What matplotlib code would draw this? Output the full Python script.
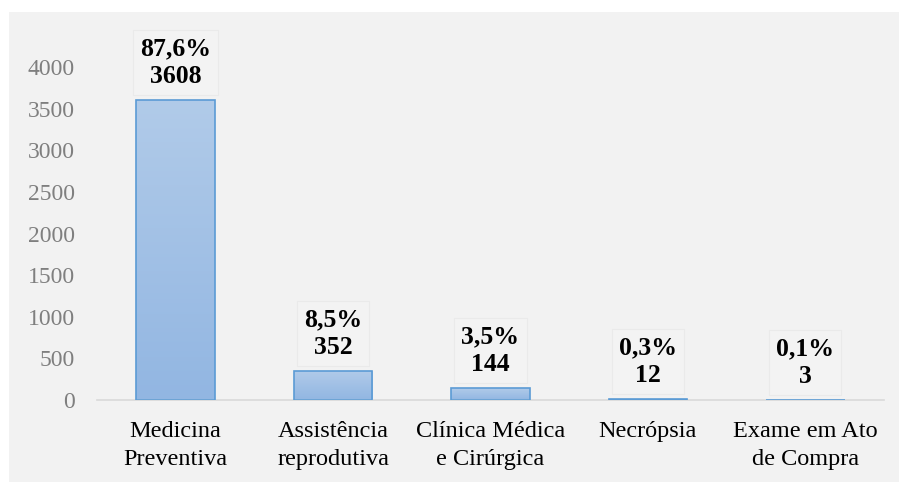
import matplotlib.pyplot as plt
import numpy as np
from matplotlib.patches import Rectangle
from matplotlib.colors import LinearSegmentedColormap

categorias = ["Medicina\nPreventiva", "Assistência\nreprodutiva", "Clínica Médica\ne Cirúrgica",
              "Necrópsia", "Exame em Ato\nde Compra"]
valores = [3608, 352, 144, 12, 3]
percentuais = ["87,6%", "8,5%", "3,5%", "0,3%", "0,1%"]

plt.rcParams['font.family'] = ['Liberation Serif', 'DejaVu Serif']

fig = plt.figure(figsize=(8.99, 4.82), dpi=100, facecolor='white')
# painel cinza de fundo
fig.patches.append(Rectangle((9/899, 0), 890/899, 470/482, transform=fig.transFigure,
                             facecolor='#f2f2f2', edgecolor='none', zorder=-10))

ax = fig.add_axes([97/899, 1 - 400/482, (884 - 97)/899, (400 - 67)/482])
ax.set_facecolor('none')

x = np.arange(len(valores))
largura = 0.5
barras = ax.bar(x, valores, width=largura, color='none', edgecolor='#5b9bd5', linewidth=1.2, zorder=3)

# preenchimento em gradiente
grad = np.linspace(0, 1, 256).reshape(-1, 1)
cmap = LinearSegmentedColormap.from_list('g', ['#b1cbe9', '#92b6e2'])
for b in barras:
    x0, y0, w, h = b.get_x(), b.get_y(), b.get_width(), b.get_height()
    im = ax.imshow(grad, extent=(x0, x0 + w, y0, y0 + h), aspect='auto', cmap=cmap,
                   origin='upper', zorder=2)
    im.set_clip_path(b)

for xi, v, p in zip(x, valores, percentuais):
    ax.annotate(p + "\n" + str(v), xy=(xi, v), xytext=(0, 12), textcoords='offset pixels',
                ha='center', va='bottom', fontsize=18.5, fontweight='bold', linespacing=1.25,
                annotation_clip=False,
                bbox=dict(boxstyle='square,pad=0.28', facecolor='#f3f3f3', edgecolor='#eaeaea', lw=0.8))

ax.set_xlim(-0.5, len(valores) - 0.5)
ax.set_ylim(0, 4000)
ax.set_yticks(np.arange(0, 4001, 500))
ax.set_xticks(x)
ax.set_xticklabels(categorias, fontsize=17.5, linespacing=1.45)
ax.tick_params(axis='y', length=0, labelsize=17, labelcolor='#7f7f7f', pad=16)
ax.tick_params(axis='x', length=0, pad=15)
for s in ['top', 'right', 'left']:
    ax.spines[s].set_visible(False)
ax.spines['bottom'].set_color('#d9d9d9')
ax.spines['bottom'].set_linewidth(1.2)

fig.savefig('out.png', dpi=100, facecolor='white')
